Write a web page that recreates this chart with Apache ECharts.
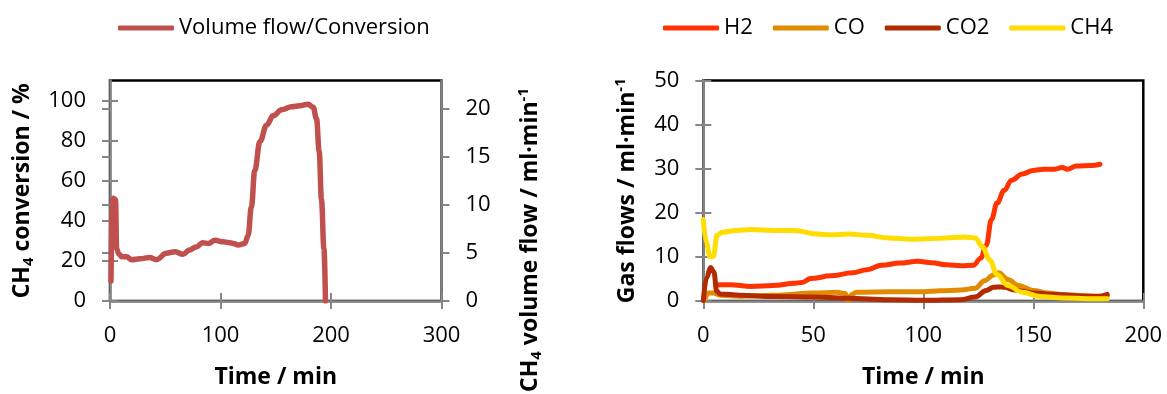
<!DOCTYPE html>
<html>
<head>
<meta charset="utf-8">
<script src="https://cdn.jsdelivr.net/npm/echarts@6/dist/echarts.min.js"></script>
<style>
  html, body { margin: 0; padding: 0; background: #fff; }
  #chart { width: 1167px; height: 394px; }
</style>
</head>
<body>
<div id="chart"></div>
<script>
// ---- Left chart: CH4 conversion ----
const convTime  = [0.9, 2, 3, 5, 6, 8, 10.6, 15, 19.6, 27, 36, 42, 51, 59, 66, 72, 78, 84, 89, 95, 102.5, 107, 111.6, 116, 122, 125, 128, 131, 135.7, 141.7, 147.8, 155.3, 164.3, 171.9, 179.4, 183.9, 186.9, 189.3, 191.4, 193.6, 195];
const convValue = [10, 45, 51.3, 50.5, 26, 23.5, 22.1, 22.1, 20.6, 21.1, 21.7, 20.6, 23.8, 24.6, 23.3, 25.4, 27.0, 29.0, 28.7, 30.3, 29.5, 29.2, 28.7, 27.9, 28.7, 32.7, 47.2, 65.0, 79.6, 87.7, 92.5, 95.4, 96.9, 97.4, 98.2, 96.6, 90.9, 74.7, 50.5, 26.2, 0];
const leftYTicks  = [0, 20, 40, 60, 80, 100];
const rightYTicks = [0, 5, 10, 15, 20];

// ---- Right chart: gas flows ----
const h2Time  = [6.2, 12, 21.8, 31.7, 41.5, 44.8, 48.9, 58, 67.8, 74.4, 81, 89.2, 97.4, 103.9, 110.5, 117.1, 122.8, 126.1, 128.6, 131, 133.5, 136.8, 140.1, 145, 149.9, 154.8, 159.8, 163.1, 165.5, 169.6, 176.2, 180.3];
const h2Flow  = [3.7, 3.7, 3.3, 3.5, 4.0, 4.2, 5.1, 5.7, 6.4, 7.1, 8.1, 8.6, 9.0, 8.7, 8.2, 8.0, 8.1, 9.7, 12.6, 18.5, 22.2, 25.1, 27.4, 28.8, 29.6, 29.9, 29.9, 30.3, 29.9, 30.6, 30.7, 31.0];
const coTime  = [0.5, 2.3, 4.6, 7.6, 16.7, 31.8, 50, 60.6, 64.5, 65.9, 67.5, 69.7, 84.8, 100, 107.6, 117.1, 123.6, 127.8, 131.9, 134.3, 138.4, 143.3, 149.9, 156.5, 163.1, 172.9, 183.6];
const coFlow  = [0.1, 1.8, 1.8, 1.3, 1.1, 1.3, 1.8, 2.0, 1.7, 0.1, 1.5, 2.0, 2.1, 2.1, 2.3, 2.5, 2.9, 4.6, 5.9, 6.4, 4.9, 3.5, 2.4, 1.8, 1.5, 1.2, 1.0];
const co2Time = [0, 1.5, 3.3, 4.8, 6.1, 7.6, 16.7, 31.8, 50, 65.2, 84.8, 100, 117.1, 123.6, 128.6, 131.9, 134.9, 136.8, 141.7, 149.9, 159.8, 169.6, 179.5, 183.6];
const co2Flow = [0.1, 5.3, 7.6, 6.6, 2.2, 1.6, 1.3, 1.0, 0.9, 0.65, 0.3, 0.15, 0.3, 0.9, 2.4, 3.1, 3.2, 3.1, 2.5, 1.8, 1.5, 1.2, 1.0, 1.5];
const ch4Time = [0, 1.3, 3.0, 4.6, 6.2, 8.7, 15.3, 21.8, 31.7, 41.5, 51.4, 58, 66.2, 74.4, 84.2, 94.1, 102.3, 110.5, 118.7, 123.6, 126.9, 130.2, 133.5, 138.4, 145, 153.2, 163.1, 174.5, 183.6];
const ch4Flow = [18.5, 13.4, 10.1, 10.1, 14.9, 15.6, 16.0, 16.2, 16.0, 16.0, 15.2, 15.0, 15.2, 14.9, 14.3, 14.0, 14.1, 14.3, 14.5, 14.3, 12.3, 9.3, 6.0, 3.5, 2.0, 1.0, 0.7, 0.5, 0.5];

const zip = (a, b) => a.map((v, i) => [v, b[i]]);

const FONT = 'Open Sans';
const AXIS_GRAY = '#868686';
const richTitle = {
  b: { fontFamily: FONT, fontSize: 23, fontWeight: 'bold', color: '#000', lineHeight: 28 },
  s: { fontFamily: FONT, fontSize: 15, fontWeight: 'bold', color: '#000', lineHeight: 13, verticalAlign: 'bottom' },
  p: { fontFamily: FONT, fontSize: 15, fontWeight: 'bold', color: '#000', lineHeight: 13, verticalAlign: 'top' }
};
const labelStyle = { fontFamily: FONT, fontSize: 22, color: '#000', margin: 24 };

function mainAxis(extra) {
  return Object.assign({
    type: 'value',
    splitLine: { show: false },
    axisLine: { show: true, onZero: false, lineStyle: { color: AXIS_GRAY, width: 2.5 } },
    axisTick: { show: true, length: 8, lineStyle: { color: AXIS_GRAY, width: 2 } },
    axisLabel: Object.assign({}, labelStyle)
  }, extra);
}
function dupAxis(extra) {
  return Object.assign({
    type: 'value',
    splitLine: { show: false },
    axisLine: { show: false },
    axisLabel: { show: false },
    axisTick: { show: true, inside: true, length: 8, lineStyle: { color: AXIS_GRAY, width: 2 } }
  }, extra);
}
const legendCommon = {
  padding: 0, top: 17,
  itemWidth: 56, itemHeight: 5, icon: 'roundRect',
  textStyle: { fontFamily: FONT, fontSize: 22, color: '#000' }
};

const chart = echarts.init(document.getElementById('chart'), null, { renderer: 'canvas' });
const option = {
  backgroundColor: '#fff',
  animation: false,
  legend: [
    Object.assign({ data: ['Volume flow/Conversion'], left: 118 }, legendCommon),
    Object.assign({ data: ['H2', 'CO', 'CO2', 'CH4'], left: 663, itemGap: 20 }, legendCommon)
  ],
  grid: [
    { left: 110, top: 80.5, width: 331.5, height: 226.8, show: true, borderColor: '#000', borderWidth: 2.5, containLabel: false },
    { left: 703.3, top: 80.5, width: 440, height: 226.8, show: true, borderColor: '#000', borderWidth: 2.5, containLabel: false }
  ],
  xAxis: [
    mainAxis({ gridIndex: 0, min: 0, max: 300, interval: 100, position: 'bottom',
      name: 'Time / min', nameLocation: 'middle', nameGap: 65,
      nameTextStyle: { fontFamily: FONT, fontSize: 23, fontWeight: 'bold', color: '#000' } }),
    dupAxis({ gridIndex: 0, min: 0, max: 300, interval: 100, position: 'bottom' }),
    mainAxis({ gridIndex: 1, min: 0, max: 200, interval: 50, position: 'bottom',
      name: 'Time / min', nameLocation: 'middle', nameGap: 65,
      nameTextStyle: { fontFamily: FONT, fontSize: 23, fontWeight: 'bold', color: '#000' } }),
    dupAxis({ gridIndex: 1, min: 0, max: 200, interval: 50, position: 'bottom' })
  ],
  yAxis: [
    mainAxis({ gridIndex: 0, min: 0, max: 110, position: 'left',
      axisTick: { show: true, length: 8, customValues: leftYTicks, lineStyle: { color: AXIS_GRAY, width: 2 } },
      axisLabel: Object.assign({ customValues: leftYTicks }, labelStyle),
      name: '{b|CH}{s|4}{b| conversion / %}', nameLocation: 'middle', nameGap: 74, nameRotate: 90,
      nameTextStyle: { rich: richTitle } }),
    dupAxis({ gridIndex: 0, min: 0, max: 110, position: 'left',
      axisTick: { show: true, inside: true, length: 8, customValues: leftYTicks, lineStyle: { color: AXIS_GRAY, width: 2 } } }),
    mainAxis({ gridIndex: 0, min: 0, max: 22.9, position: 'right',
      axisTick: { show: true, length: 8, customValues: rightYTicks, lineStyle: { color: AXIS_GRAY, width: 2 } },
      axisLabel: Object.assign({ customValues: rightYTicks }, labelStyle) }),
    dupAxis({ gridIndex: 0, min: 0, max: 22.9, position: 'right',
      axisTick: { show: true, inside: true, length: 8, customValues: rightYTicks, lineStyle: { color: AXIS_GRAY, width: 2 } } }),
    mainAxis({ gridIndex: 1, min: 0, max: 50, interval: 10, position: 'left',
      name: '{b|Gas flows / ml·min}{p|-1}', nameLocation: 'middle', nameGap: 62, nameRotate: 90,
      nameTextStyle: { rich: richTitle } }),
    dupAxis({ gridIndex: 1, min: 0, max: 50, interval: 10, position: 'left' })
  ],
  graphic: [
    {
      type: 'text', x: 530, y: 240, rotation: Math.PI / 2,
      style: {
        text: '{b|CH}{s|4}{b| volume flow / ml·min}{p|-1}',
        rich: richTitle, align: 'center', verticalAlign: 'middle'
      }
    }
  ],
  series: [
    {
      name: 'Volume flow/Conversion', type: 'line', xAxisIndex: 0, yAxisIndex: 0,
      data: zip(convTime, convValue), symbol: 'none', smooth: 0.4, smoothMonotone: 'x',
      lineStyle: { color: '#C0504D', width: 5.5, cap: 'round', join: 'round' }, itemStyle: { color: '#C0504D' }
    },
    {
      name: 'H2', type: 'line', xAxisIndex: 2, yAxisIndex: 4,
      data: zip(h2Time, h2Flow), symbol: 'none', smooth: 0.4, smoothMonotone: 'x',
      lineStyle: { color: '#FF3300', width: 5, cap: 'round', join: 'round' }, itemStyle: { color: '#FF3300' }
    },
    {
      name: 'CO', type: 'line', xAxisIndex: 2, yAxisIndex: 4,
      data: zip(coTime, coFlow), symbol: 'none', smooth: 0.4, smoothMonotone: 'x',
      lineStyle: { color: '#E38B00', width: 5, cap: 'round', join: 'round' }, itemStyle: { color: '#E38B00' }
    },
    {
      name: 'CO2', type: 'line', xAxisIndex: 2, yAxisIndex: 4,
      data: zip(co2Time, co2Flow), symbol: 'none', smooth: 0.4, smoothMonotone: 'x',
      lineStyle: { color: '#B22A00', width: 5, cap: 'round', join: 'round' }, itemStyle: { color: '#B22A00' }
    },
    {
      name: 'CH4', type: 'line', xAxisIndex: 2, yAxisIndex: 4,
      data: zip(ch4Time, ch4Flow), symbol: 'none', smooth: 0.4, smoothMonotone: 'x',
      lineStyle: { color: '#FFDD00', width: 5, cap: 'round', join: 'round' }, itemStyle: { color: '#FFDD00' }
    }
  ]
};
chart.setOption(option);
</script>
</body>
</html>
